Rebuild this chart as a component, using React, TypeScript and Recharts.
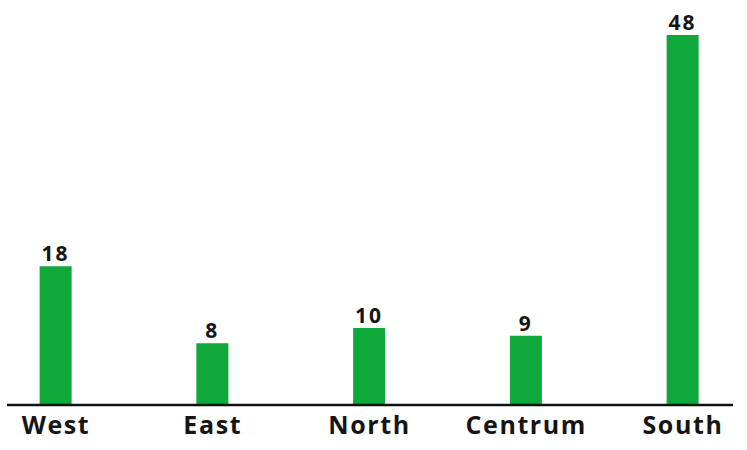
import React from 'react';
import { BarChart, Bar, XAxis, YAxis, LabelList } from 'recharts';

const regions = ['West', 'East', 'North', 'Centrum', 'South'];
const counts = [18, 8, 10, 9, 48];

const data = regions.map((name, i) => ({ idx: i, name, value: counts[i] }));

const font = '"Open Sans", sans-serif';

export default function App() {
    return (
        <div style={{ position: 'absolute', left: 0, top: 0, background: '#fff' }}>
            <BarChart
                width={747}
                height={450}
                data={data}
                margin={{ top: 35, right: 14, bottom: 0, left: 7 }}
            >
                <XAxis
                    type="number"
                    dataKey="idx"
                    domain={[-0.3126, 4.319]}
                    ticks={[0, 1, 2, 3, 4]}
                    tickFormatter={(v: number) => regions[v]}
                    allowDataOverflow
                    height={45}
                    stroke="#111"
                    strokeWidth={2.5}
                    tickLine={false}
                    tickSize={0}
                    tickMargin={11}
                    tick={{ fill: '#151515', fontSize: 25, fontWeight: 700, fontFamily: font, letterSpacing: 1.6 }}
                />
                <YAxis hide domain={[0, 48]} />
                <Bar dataKey="value" fill="#0fa83a" barSize={32} isAnimationActive={false}>
                    <LabelList
                        dataKey="value"
                        position="top"
                        offset={5}
                        fill="#151515"
                        fontSize={21}
                        fontWeight={700}
                        fontFamily={font}
                        letterSpacing={2}
                    />
                </Bar>
            </BarChart>
        </div>
    );
}
